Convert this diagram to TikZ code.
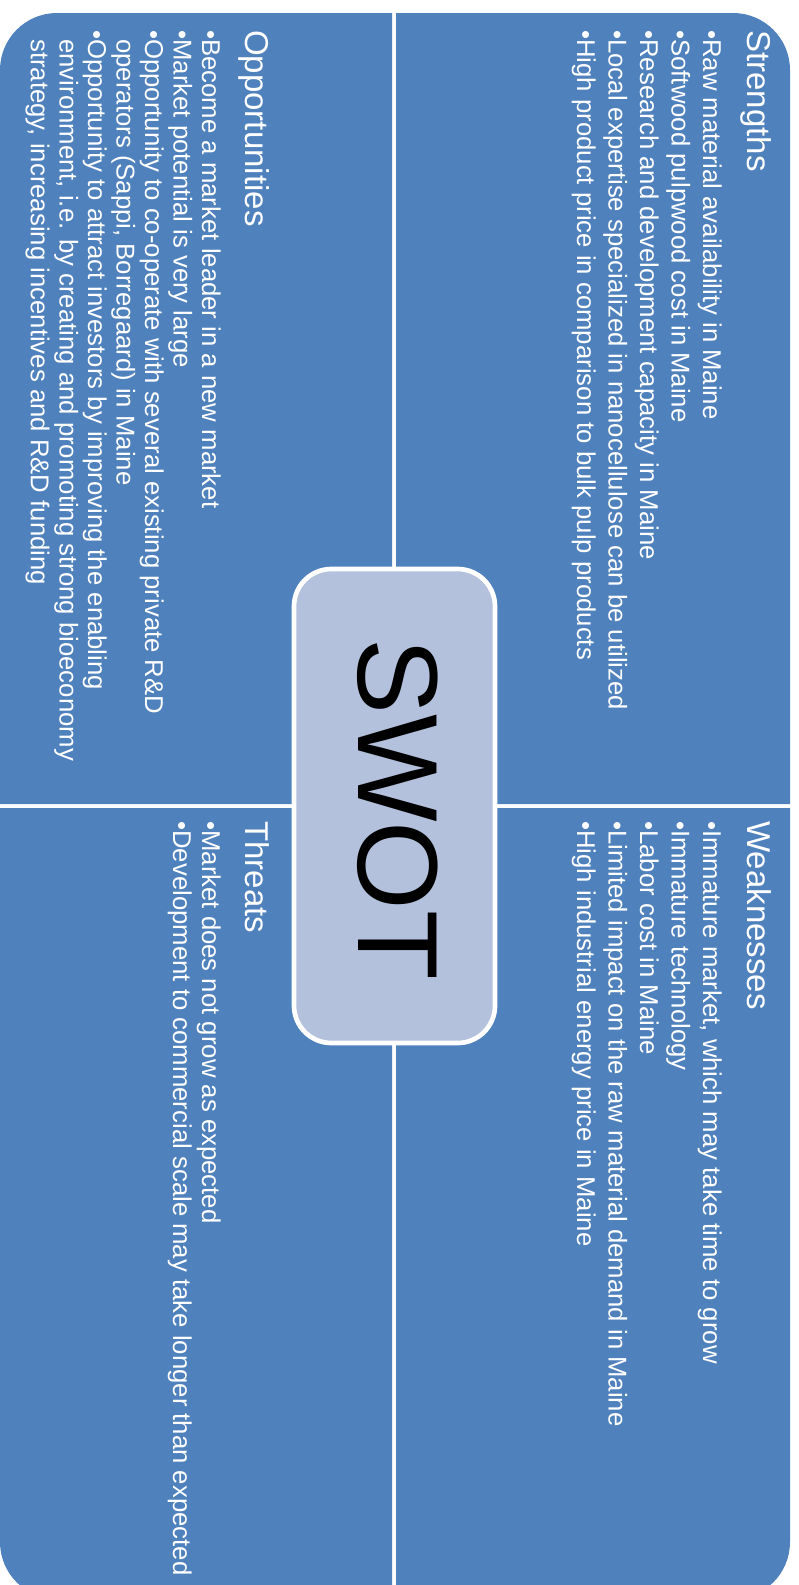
\documentclass[tikz,border=0pt]{standalone}
\usepackage{fontspec}
\setmainfont{Liberation Sans}
\definecolor{quadblue}{RGB}{79,129,189}
\definecolor{swotfill}{RGB}{179,193,220}
\begin{document}
\begin{tikzpicture}[x=0.75pt,y=-0.75pt,
  quad/.style={fill=quadblue},
  head/.style={rotate=-90,anchor=base west,inner sep=0pt,text=white,font=\fontsize{24.75}{29}\selectfont},
  item/.style={rotate=-90,anchor=base west,inner sep=0pt,text=white,font=\fontsize{19.3}{23}\selectfont},
  swotbox/.style={draw=white,line width=3.5pt,fill=swotfill,rounded corners=28pt,
    minimum width=150.75pt,minimum height=355.5pt,inner sep=0pt},
  swottext/.style={rotate=-90,anchor=base,inner sep=0pt,text=black,font=\fontsize{85.5}{90}\selectfont}]
\useasboundingbox (0,0) rectangle (799,1585);
\clip (0,0) rectangle (799,1585);
% quadrants
\fill[quad] (392,804) -- (0,804) -- (0,300) [rounded corners=42.75pt] -- (0,13) -- (300,13) [sharp corners] -- (392,13) -- cycle;
\fill[quad] (396,804) -- (396,13) -- (500,13) [rounded corners=42.75pt] -- (790,13) -- (790,300) [sharp corners] -- (790,804) -- cycle;
\fill[quad] (392,808) -- (0,808) -- (0,1300) [rounded corners=42.75pt] -- (0,1599) -- (300,1599) [sharp corners] -- (392,1599) -- cycle;
\fill[quad] (396,808) -- (790,808) -- (790,1300) [rounded corners=42.75pt] -- (790,1599) -- (500,1599) [sharp corners] -- (396,1599) -- cycle;
% Strengths
\node[head] (sh) at (747,30) {Strengths};
\node[item] (s1) at (703,30) {•Raw material availability in Maine};
\node[item] (s2) at (671.5,30) {•Softwood pulpwood cost in Maine};
\node[item] (s3) at (640,30) {•Research and development capacity in Maine};
\node[item] (s4) at (608.5,30) {•Local expertise specialized in nanocellulose can be utilized};
\node[item] (s5) at (577,30) {•High product price in comparison to bulk pulp products};
% Weaknesses
\node[head] (wh) at (747,821) {Weaknesses};
\node[item] (w1) at (703,821) {•Immature market, which may take time to grow};
\node[item] (w2) at (671.5,821) {•Immature technology};
\node[item] (w3) at (640,821) {•Labor cost in Maine};
\node[item] (w4) at (608.5,821) {•Limited impact on the raw material demand in Maine};
\node[item] (w5) at (577,821) {•High industrial energy price in Maine};
% Opportunities
\node[head] (oh) at (245,30) {Opportunities};
\node[item] (o1) at (202,30) {•Become a market leader in a new market};
\node[item] (o2) at (173.5,30) {•Market potential is very large};
\node[item] (o3) at (145,30) {•Opportunity to co-operate with several existing private R\&D};
\node[item] (o4) at (116.5,30) {\phantom{•}operators (Sappi, Borregaard) in Maine};
\node[item] (o5) at (88,30) {•Opportunity to attract investors by improving the enabling};
\node[item] (o6) at (59.5,30) {\phantom{•}environment, i.e. by creating and promoting strong bioeconomy};
\node[item] (o7) at (31,30) {\phantom{•}strategy, increasing incentives and R\&D funding};
% Threats
\node[head] (th) at (245,821) {Threats};
\node[item] (t1) at (202,821) {•Market does not grow as expected};
\node[item] (t2) at (173,821) {•Development to commercial scale may take longer than expected};
% centre
\node[swotbox] (box) at (394.5,806) {};
\node[swottext] (swot) at (358,809) {SWOT};
\end{tikzpicture}
\end{document}
